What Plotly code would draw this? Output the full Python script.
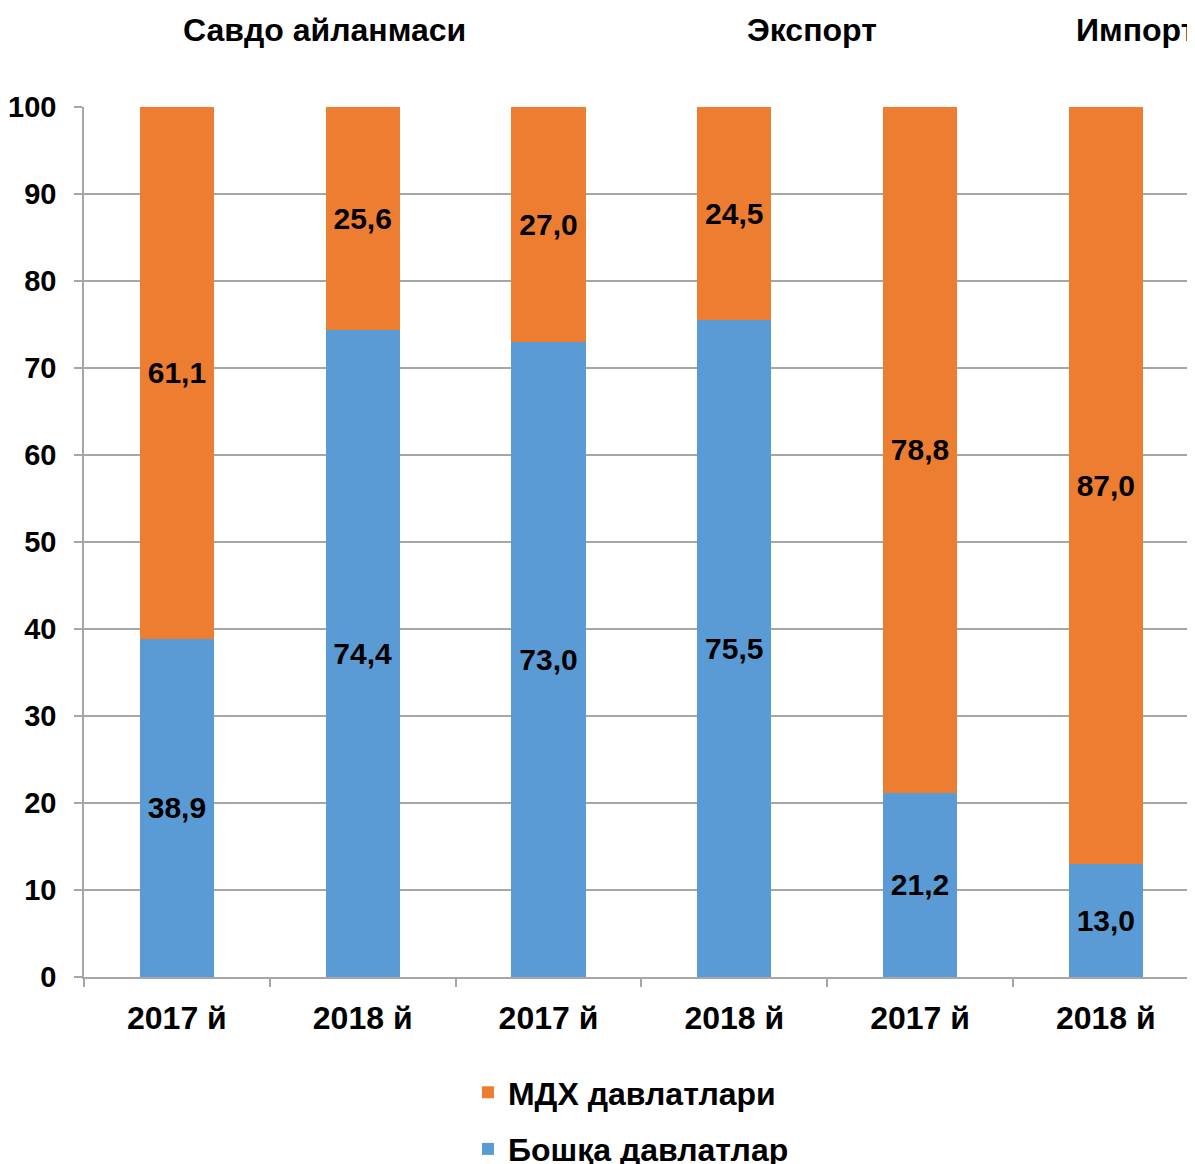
import plotly.graph_objects as go

# Data
x_pos = [0, 1, 2, 3, 4, 5]
year_labels = ["2017 й", "2018 й", "2017 й", "2018 й", "2017 й", "2018 й"]
other_countries = [38.9, 74.4, 73.0, 75.5, 21.2, 13.0]   # Бошқа давлатлар
cis_countries = [61.1, 25.6, 27.0, 24.5, 78.8, 87.0]     # МДХ давлатлари
group_titles = ["Савдо айланмаси", "Экспорт", "Импорт"]
y_ticks = [0, 10, 20, 30, 40, 50, 60, 70, 80, 90, 100]

FONT = "Liberation Sans, Arial, sans-serif"

def fmt(v):
    return f"{v:.1f}".replace(".", ",")

fig = go.Figure()
fig.add_trace(go.Bar(
    x=x_pos, y=other_countries, name="Бошқа давлатлар",
    marker=dict(color="#5B9BD5", line=dict(width=0)),
    text=[fmt(v) for v in other_countries], textposition="inside",
    insidetextanchor="middle", textangle=0,
    textfont=dict(family=FONT, size=30, color="black", weight="bold"),
    width=0.4, legendgroup="b", legendrank=2,
))
fig.add_trace(go.Bar(
    x=x_pos, y=cis_countries, name="МДХ давлатлари",
    marker=dict(color="#ED7D31", line=dict(width=0)),
    text=[fmt(v) for v in cis_countries], textposition="inside",
    insidetextanchor="middle", textangle=0,
    textfont=dict(family=FONT, size=30, color="black", weight="bold"),
    width=0.4, legendgroup="a", legendrank=1,
))

# group titles
title_pos = [(0.2169, "center"), (0.6553, "center"), (0.891, "left")]
for t, (xp, anc) in zip(group_titles, title_pos):
    fig.add_annotation(text=t, xref="paper", yref="paper", x=xp, y=1.0885,
                       xanchor=anc, yanchor="middle", showarrow=False,
                       font=dict(family=FONT, size=32, color="black", weight="bold"))

# page body has an 8px default margin; compensate so the chart fills the window
fig.update_layout(
    width=1187, height=1156,
    barmode="stack",
    plot_bgcolor="white", paper_bgcolor="white",
    margin=dict(l=76, r=0, t=99, b=187, autoexpand=False),
    font=dict(family=FONT, color="black"),
    showlegend=True,
    legend=dict(
        orientation="v", x=0.3456, xanchor="left", yref="container",
        y=1 - 1057 / 1156, yanchor="top",
        traceorder="grouped", tracegroupgap=12,
        font=dict(family=FONT, size=32, color="black", weight="bold"),
    ),
    xaxis=dict(
        range=[-0.5, 5.48], tickmode="array", tickvals=x_pos, ticktext=year_labels,
        ticks="", showgrid=False, showline=True, linecolor="#a6a6a6", linewidth=1.5,
        tickfont=dict(family=FONT, size=32, color="black", weight="bold"),
        ticklabelstandoff=12,
        minor=dict(tickvals=[-0.5, 0.5, 1.5, 2.5, 3.5, 4.5, 5.5], ticks="outside",
                   ticklen=8, tickcolor="#a6a6a6", tickwidth=1.5, showgrid=False),
        zeroline=False, fixedrange=True,
    ),
    yaxis=dict(
        range=[0, 100], tickmode="array", tickvals=y_ticks,
        ticks="outside", ticklen=8, tickcolor="#a6a6a6", tickwidth=1.5,
        showgrid=True, gridcolor="#a6a6a6", gridwidth=1.5,
        showline=True, linecolor="#a6a6a6", linewidth=1.5,
        tickfont=dict(family=FONT, size=29, color="black", weight="bold"),
        ticklabelstandoff=12, zeroline=False,
    ),
)

fig.write_html("out.html")
